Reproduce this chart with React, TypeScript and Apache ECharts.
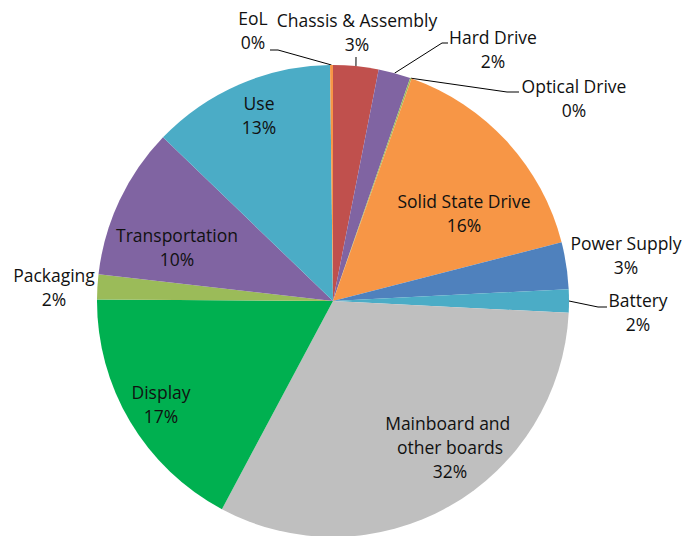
import React, { useEffect, useRef } from 'react';
import * as echarts from 'echarts';

const categories = [
  'Chassis & Assembly',
  'Hard Drive',
  'Optical Drive',
  'Solid State Drive',
  'Power Supply',
  'Battery',
  'Mainboard and other boards',
  'Display',
  'Packaging',
  'Transportation',
  'Use',
  'EoL',
];
const shares = [3.1, 2.2, 0.1, 15.6, 3.2, 1.6, 32.0, 17.3, 1.7, 10.4, 12.6, 0.2];
const colors = [
  '#C0504D', '#8064A2', '#9BBB59', '#F79646', '#4F81BD', '#4BACC6',
  '#BFBFBF', '#00B050', '#9BBB59', '#8064A2', '#4BACC6', '#F79646',
];
const insideLabels = ['Solid State Drive', 'Mainboard and other boards', 'Display', 'Transportation', 'Use'];

const CX = 333;
const CY = 301;
const R = 236;

// Label text centres and leader-line elbows (page pixels)
const labelPlacement: Record<string, { x: number; y: number; line?: number[][] }> = {
  'Chassis & Assembly': { x: 357, y: 32, line: [[356, 57], [356, 57]] },
  'Hard Drive': { x: 493, y: 49, line: [[442, 43], [448, 43]] },
  'Optical Drive': { x: 574, y: 98, line: [[507, 92], [519, 92]] },
  'Solid State Drive': { x: 464, y: 213 },
  'Power Supply': { x: 626, y: 255 },
  'Battery': { x: 638, y: 312, line: [[598, 307], [607, 307]] },
  'Mainboard and other boards': { x: 450, y: 447 },
  'Display': { x: 161, y: 404 },
  'Packaging': { x: 54, y: 287 },
  'Transportation': { x: 177, y: 247 },
  'Use': { x: 259, y: 115 },
  'EoL': { x: 253, y: 30, line: [[278, 50], [270, 50]] },
};

function midAngle(i: number): number {
  const total = shares.reduce((a, b) => a + b, 0);
  let before = 0;
  for (let k = 0; k < i; k++) before += shares[k];
  return ((before + shares[i] / 2) / total) * Math.PI * 2;
}

export default function App() {
  const ref = useRef<HTMLDivElement>(null);
  useEffect(() => {
    if (!ref.current) return;
    const chart = echarts.init(ref.current, null, { renderer: 'svg' });
    const data = categories.map((name, i) => {
      const inside = insideLabels.includes(name);
      const hasLine = !!labelPlacement[name].line;
      return {
        name,
        value: shares[i],
        itemStyle: { color: colors[i] },
        label: {
          position: inside ? 'inside' : 'outside',
          ...(name === 'Mainboard and other boards' ? { width: 140, overflow: 'break' } : {}),
        },
        labelLine: { show: hasLine },
      };
    });
    chart.setOption({
      animation: false,
      series: [
        {
          type: 'pie',
          center: [CX, CY],
          radius: R,
          startAngle: 90,
          clockwise: true,
          avoidLabelOverlap: false,
          itemStyle: { borderWidth: 0 },
          emphasis: { disabled: true },
          label: {
            show: true,
            formatter: (p: any) => `${p.name}\n${Math.round(p.percent)}%`,
            fontFamily: 'Open Sans',
            fontSize: 17.5,
            lineHeight: 24,
            color: '#111',
            align: 'center',
          },
          labelLine: {
            show: false,
            lineStyle: { color: '#000', width: 1 },
          },
          labelLayout: (p: any) => {
            const name = categories[p.dataIndex];
            const pl = labelPlacement[name];
            const res: any = { x: pl.x, y: pl.y, align: 'center', verticalAlign: 'middle' };
            if (pl.line) {
              const a = midAngle(p.dataIndex);
              const start = [CX + R * Math.sin(a), CY - R * Math.cos(a)];
              res.labelLinePoints = [start, ...pl.line];
            }
            return res;
          },
          data,
        },
      ],
    });
    return () => chart.dispose();
  }, []);
  return (
    <div
      ref={ref}
      style={{ position: 'fixed', left: 0, top: 0, width: 700, height: 536, background: '#fff' }}
    />
  );
}
